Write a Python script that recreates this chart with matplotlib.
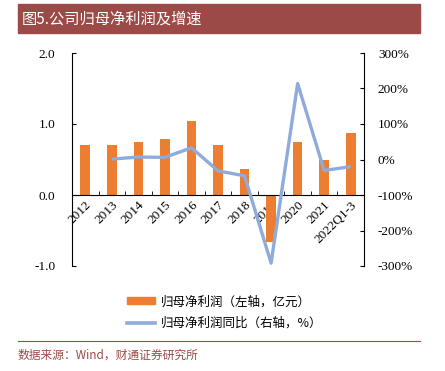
import numpy as np
import matplotlib
matplotlib.use("Agg")
import matplotlib.pyplot as plt
from matplotlib.patches import Rectangle
from matplotlib.lines import Line2D
from matplotlib.patches import Patch

plt.rcParams['font.family'] = ['Liberation Serif', 'Noto Sans CJK SC', 'DejaVu Sans']

# ------------------------------ data ------------------------------
years = ['2012', '2013', '2014', '2015', '2016', '2017', '2018', '2019',
         '2020', '2021', '2022Q1-3']
profit = [0.70, 0.71, 0.75, 0.79, 1.04, 0.70, 0.37, -0.66, 0.75, 0.49, 0.87]
growth = [np.nan, 1, 7, 6, 33, -32, -46, -292, 214, -31, -20]

orange = '#ED7D31'
blue = '#8FAADC'
dark_red = '#9B4A47'

W, H = 445, 371
fig = plt.figure(figsize=(W / 100, H / 100), dpi=100)

# title bar
fig.patches.append(Rectangle((18 / W, 1 - 33 / H), 402 / W, 29 / H,
                             transform=fig.transFigure, color=dark_red, zorder=0))
fig.text(22 / W, 1 - 19 / H, '图5.公司归母净利润及增速', color='white', fontsize=11,
         va='center', ha='left', family=['Noto Sans CJK SC'])

ax = fig.add_axes([72 / W, 1 - 266 / H, 292 / W, 213 / H])
x = np.arange(len(years))
ax.bar(x, profit, width=0.36, color=orange, zorder=2)
ax.set_xlim(-0.5, len(years) - 0.5)
ax.set_ylim(-1.0, 2.0)
ax.set_yticks([-1.0, 0.0, 1.0, 2.0])
ax.set_yticklabels(['-1.0', '0.0', '1.0', '2.0'], fontsize=9.5)
ax.spines['top'].set_visible(False)
ax.spines['right'].set_visible(False)
ax.spines['bottom'].set_position(('data', 0))
ax.tick_params(axis='y', direction='in', length=3, pad=12)
ax.set_xticks(np.arange(-0.5, len(years), 1.0), minor=True)
ax.set_xticks(x)
ax.set_xticklabels(years, rotation=45, ha='right', rotation_mode='anchor', fontsize=9.5)
ax.tick_params(axis='x', which='major', length=0, pad=3)
ax.tick_params(axis='x', which='minor', direction='in', length=3)

ax2 = ax.twinx()
ax2.plot(x, growth, color=blue, lw=2.4, zorder=3, solid_capstyle='butt')
ax2.set_ylim(-300, 300)
ax2.set_yticks(np.arange(-300, 301, 100))
ax2.set_yticklabels([f'{v}%' for v in range(-300, 301, 100)], fontsize=9.5)
ax2.tick_params(axis='y', direction='in', length=3, pad=10)
for s in ['top', 'left', 'bottom']:
    ax2.spines[s].set_visible(False)

handles = [Patch(color=orange), Line2D([0], [0], color=blue, lw=2.6)]
labels = ['归母净利润（左轴，亿元）', '归母净利润同比（右轴，%）']
fig.legend(handles, labels, loc='upper left', bbox_to_anchor=(116 / W, 1 - 284 / H),
           frameon=False, handlelength=2.2, handleheight=0.5, handletextpad=0.5,
           labelspacing=0.7, prop={'family': ['Noto Sans CJK SC'], 'size': 9})

fig.add_artist(Line2D([18 / W, 420 / W], [1 - 341 / H, 1 - 341 / H],
                      transform=fig.transFigure, color=dark_red, lw=0.8))
fig.text(18 / W, 1 - 355 / H, '数据来源：Wind，财通证券研究所', color=dark_red,
         fontsize=8.5, va='center', ha='left', family=['Noto Sans CJK SC', 'Liberation Serif'])

fig.savefig('out.png', dpi=100)
